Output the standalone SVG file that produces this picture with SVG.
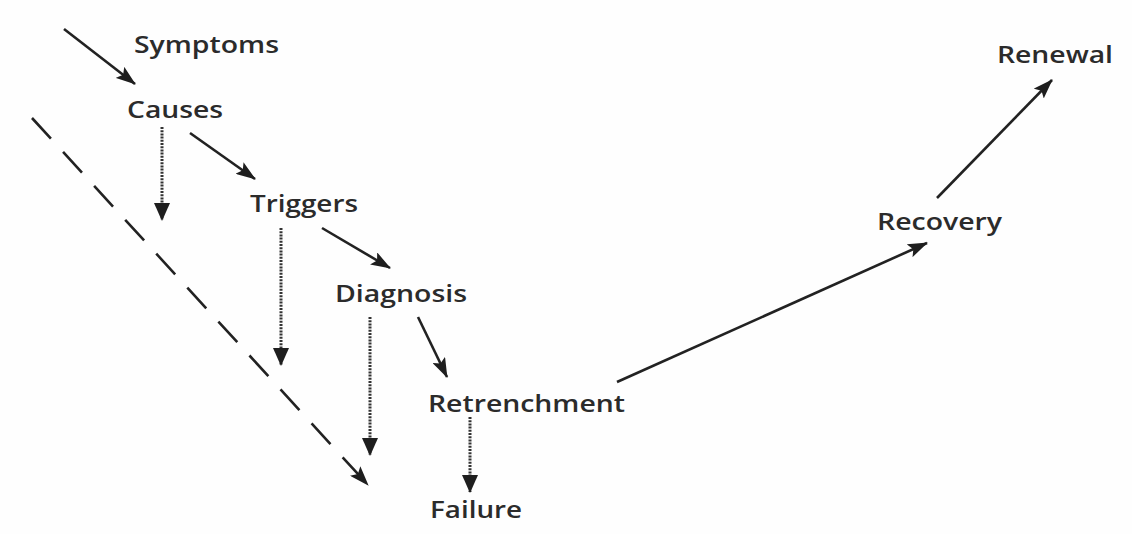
<svg xmlns="http://www.w3.org/2000/svg" width="1132" height="534" viewBox="0 0 1132 534">
  <defs>
    <style>
      .label { font-family: "Open Sans", "Liberation Sans", sans-serif; font-weight: 600; font-size: 24px; fill: #2b2b2b; }
      .solid { stroke: #222; stroke-width: 2.6; fill: none; }
      .dotted { stroke: #333; stroke-width: 3; stroke-dasharray: 2 1.2; fill: none; }
      .dashed { stroke: #222; stroke-width: 2.6; stroke-dasharray: 28 18; fill: none; }
    </style>
    <marker id="head" markerUnits="userSpaceOnUse" viewBox="0 0 20 14" refX="19" refY="7" markerWidth="20" markerHeight="14" orient="auto">
      <path d="M0,0 L20,7 L0,14 L4,7 Z" fill="#1e1e1e"/>
    </marker>
    <marker id="headDown" markerUnits="userSpaceOnUse" viewBox="0 0 18 16" refX="17" refY="8" markerWidth="18" markerHeight="16" orient="auto">
      <path d="M0,0 L18,8 L0,16 Z" fill="#1e1e1e"/>
    </marker>
  </defs>

  <rect width="1132" height="534" fill="#fefefe"/>

  <!-- connectors -->
  <g id="connectors">
    <line class="solid" x1="64" y1="29" x2="135" y2="84" marker-end="url(#head)"/>
    <line class="solid" x1="190" y1="133" x2="255" y2="179" marker-end="url(#head)"/>
    <line class="solid" x1="322" y1="228" x2="390" y2="268" marker-end="url(#head)"/>
    <line class="solid" x1="418" y1="317" x2="447" y2="377" marker-end="url(#head)"/>
    <line class="solid" x1="617" y1="382" x2="927" y2="243" marker-end="url(#head)"/>
    <line class="solid" x1="937" y1="198" x2="1052" y2="80" marker-end="url(#head)"/>

    <line class="dotted" x1="162" y1="127" x2="162" y2="220" marker-end="url(#headDown)"/>
    <line class="dotted" x1="281" y1="228" x2="281" y2="365" marker-end="url(#headDown)"/>
    <line class="dotted" x1="370" y1="317" x2="370" y2="455" marker-end="url(#headDown)"/>
    <line class="dotted" x1="470" y1="417" x2="470" y2="492" marker-end="url(#headDown)"/>

    <line class="dashed" x1="32" y1="118" x2="368" y2="485" marker-end="url(#head)"/>
  </g>

  <!-- stages -->
  <g id="symptoms"><text class="label" x="134" y="53" textLength="145" lengthAdjust="spacingAndGlyphs">Symptoms</text></g>
  <g id="causes"><text class="label" x="127" y="118" textLength="96" lengthAdjust="spacingAndGlyphs">Causes</text></g>
  <g id="triggers"><text class="label" x="250" y="212" textLength="108" lengthAdjust="spacingAndGlyphs">Triggers</text></g>
  <g id="diagnosis"><text class="label" x="335" y="302" textLength="132" lengthAdjust="spacingAndGlyphs">Diagnosis</text></g>
  <g id="retrenchment"><text class="label" x="428" y="412" textLength="197" lengthAdjust="spacingAndGlyphs">Retrenchment</text></g>
  <g id="failure"><text class="label" x="430" y="518" textLength="92" lengthAdjust="spacingAndGlyphs">Failure</text></g>
  <g id="recovery"><text class="label" x="877" y="230" textLength="125" lengthAdjust="spacingAndGlyphs">Recovery</text></g>
  <g id="renewal"><text class="label" x="997" y="63" textLength="116" lengthAdjust="spacingAndGlyphs">Renewal</text></g>
</svg>
